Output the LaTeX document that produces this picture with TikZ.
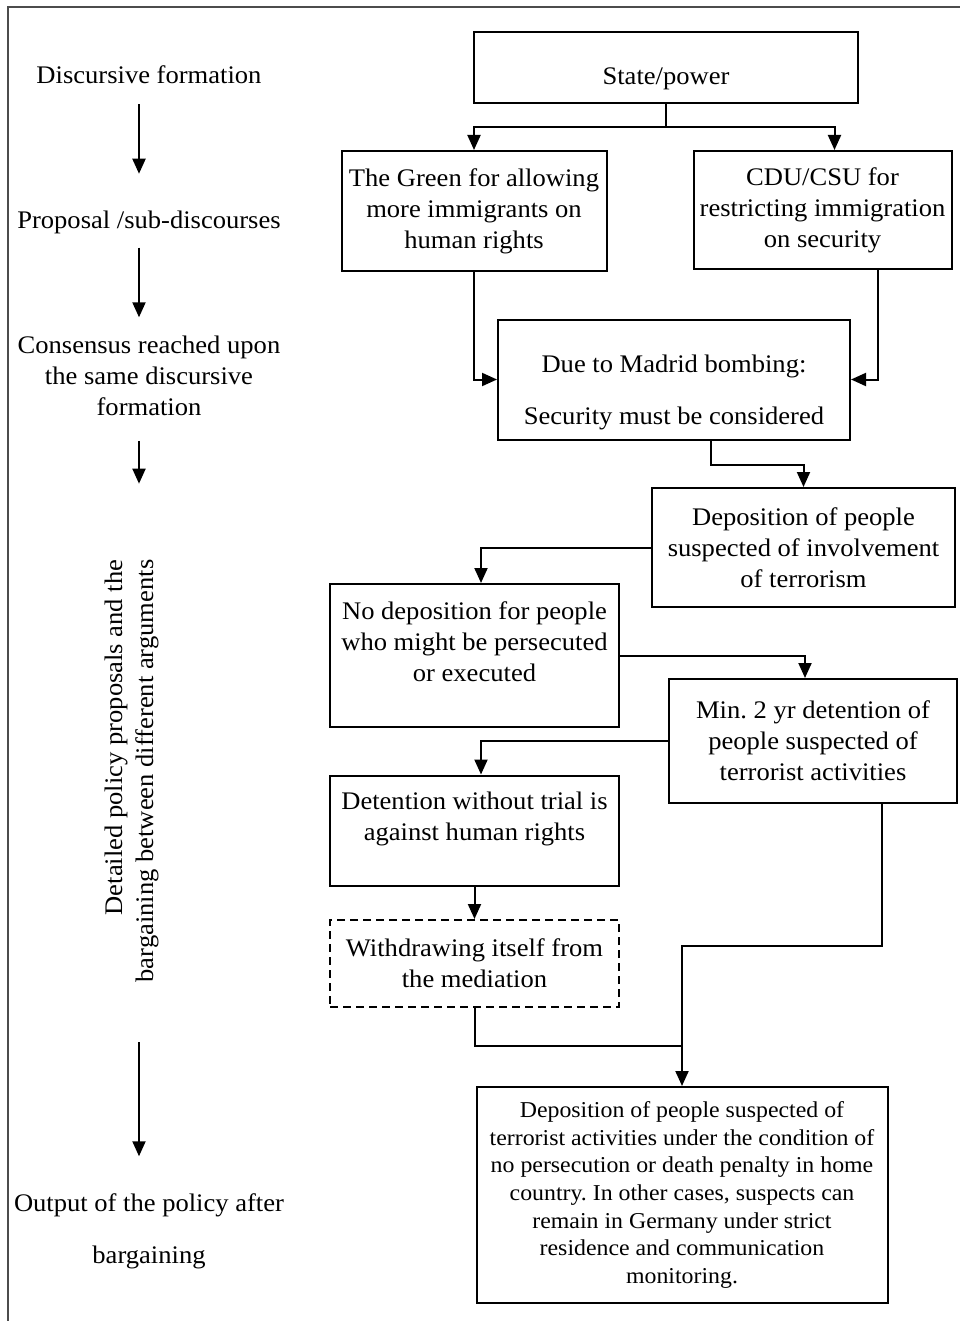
\documentclass[tikz,border=0pt]{standalone}
\usepackage{fontspec}
\setmainfont{Liberation Serif}[FakeStretch=1.05]
\usepackage{tikz}
\usetikzlibrary{arrows.meta, positioning}
\newcommand{\boxfont}{\fontsize{25.3}{31}\selectfont}
\newcommand{\notefont}{\fontsize{22.7}{27.6}\selectfont}
\frenchspacing

\begin{document}
\begin{tikzpicture}[x=1pt,y=-1pt,line width=2pt,>={Triangle[length=15pt,width=13pt]}]
  \tikzstyle{box}=[draw,rectangle,align=center,inner sep=0pt,font=\boxfont]
  \tikzstyle{dashbox}=[box,dash pattern=on 8pt off 5pt]
  \tikzstyle{lbl}=[align=center,inner sep=0pt,font=\boxfont]
  \useasboundingbox (0,0) rectangle (960,1321);
  \draw[black!70] (8,1321) -- (8,7) -- (960,7);

  % stages on the left
  \node[lbl,anchor=base] (disc) at (149,84) {Discursive formation};
  \node[lbl,anchor=base] (prop) at (149,228.3) {Proposal /sub-discourses};
  \node[lbl]             (cons) at (149,375.9) {Consensus reached upon\\the same discursive\\formation};
  \node[lbl,rotate=90,align=right] (bargain) at (131.6,771) {Detailed policy proposals and the\\bargaining between different arguments};
  \node[lbl]             (output) at (149,1231.6) {Output of the policy after\\[21pt]bargaining};

  \draw[->,shorten <=19pt,shorten >=36pt] ([xshift=-10pt]disc.south) -- ([xshift=-10pt]prop.north);
  \draw[->,shorten <=13pt,shorten >=17.7pt] ([xshift=-10pt]prop.south) -- ([xshift=-10pt]cons.north);
  \draw[->,shorten <=24pt,shorten >=75pt] ([xshift=-10pt]cons.south) -- ([xshift=7.4pt]bargain.east);
  \draw[->,shorten <=59pt,shorten >=36.7pt] ([xshift=7.4pt]bargain.west) -- ([xshift=-10pt]output.north);

  % boxes on the right
  \node[box,minimum width=384pt,minimum height=71pt]  (state)  at (666,67.5)  {\rule{0pt}{40pt}State/power};
  \node[box,minimum width=265pt,minimum height=120pt] (green)  at (474,211)   {The Green for allowing\\more immigrants on\\human rights};
  \node[box,minimum width=258pt,minimum height=118pt] (cdu)    at (822.5,210) {CDU/CSU for\\restricting immigration\\on security};
  \node[box,minimum width=352pt,minimum height=120pt] (madrid) at (674,379.5) {\rule{0pt}{44pt}Due to Madrid bombing:\\[21pt]Security must be considered};
  \node[box,minimum width=303pt,minimum height=119pt] (dep)    at (803.5,547.5) {Deposition of people\\suspected of involvement\\of terrorism};
  \node[box,minimum width=289pt,minimum height=143pt] (nodep)  at (474.5,655.5) {No deposition for people\\who might be persecuted\\or executed\rule[-28pt]{0pt}{0pt}};
  \node[box,minimum width=288pt,minimum height=124pt] (min)    at (813,741)   {Min. 2 yr detention of\\people suspected of\\terrorist activities};
  \node[box,minimum width=289pt,minimum height=110pt] (det)    at (474.5,830.5) {Detention without trial is\\against human rights\rule[-29pt]{0pt}{0pt}};
  \node[dashbox,minimum width=289pt,minimum height=87pt] (wd)  at (474.5,963.5) {Withdrawing itself from\\the mediation};
  \node[box,minimum width=411pt,minimum height=216pt,font=\notefont] (final) at (682,1195) {Deposition of people suspected of\\terrorist activities under the condition of\\no persecution or death penalty in home\\country. In other cases, suspects can\\remain in Germany under strict\\residence and communication\\monitoring.};

  \coordinate (fork) at (666,127);
  \draw (state) -- (fork);
  \draw[->] (fork) -| (green);
  \draw[->] (fork) -| ([xshift=12pt]cdu.north);
  \draw[->] (green) |- (madrid);
  \draw[->] ([xshift=55.5pt]cdu.south) |- (madrid);
  \draw[->] ([xshift=37pt]madrid.south) -- ++(0,24) -| (dep);
  \draw[->] (dep) -| ([xshift=6.5pt]nodep.north);
  \draw[->] (nodep) -| ([xshift=-8pt]min.north);
  \draw[->] (min) -| ([xshift=6.5pt]det.north);
  \draw[->] (det) -- (wd);
  \draw[->] ([xshift=69pt]min.south) -- ++(0,142) -| (final);
  \draw (wd) |- ([yshift=40pt]final.north);
\end{tikzpicture}
\end{document}
